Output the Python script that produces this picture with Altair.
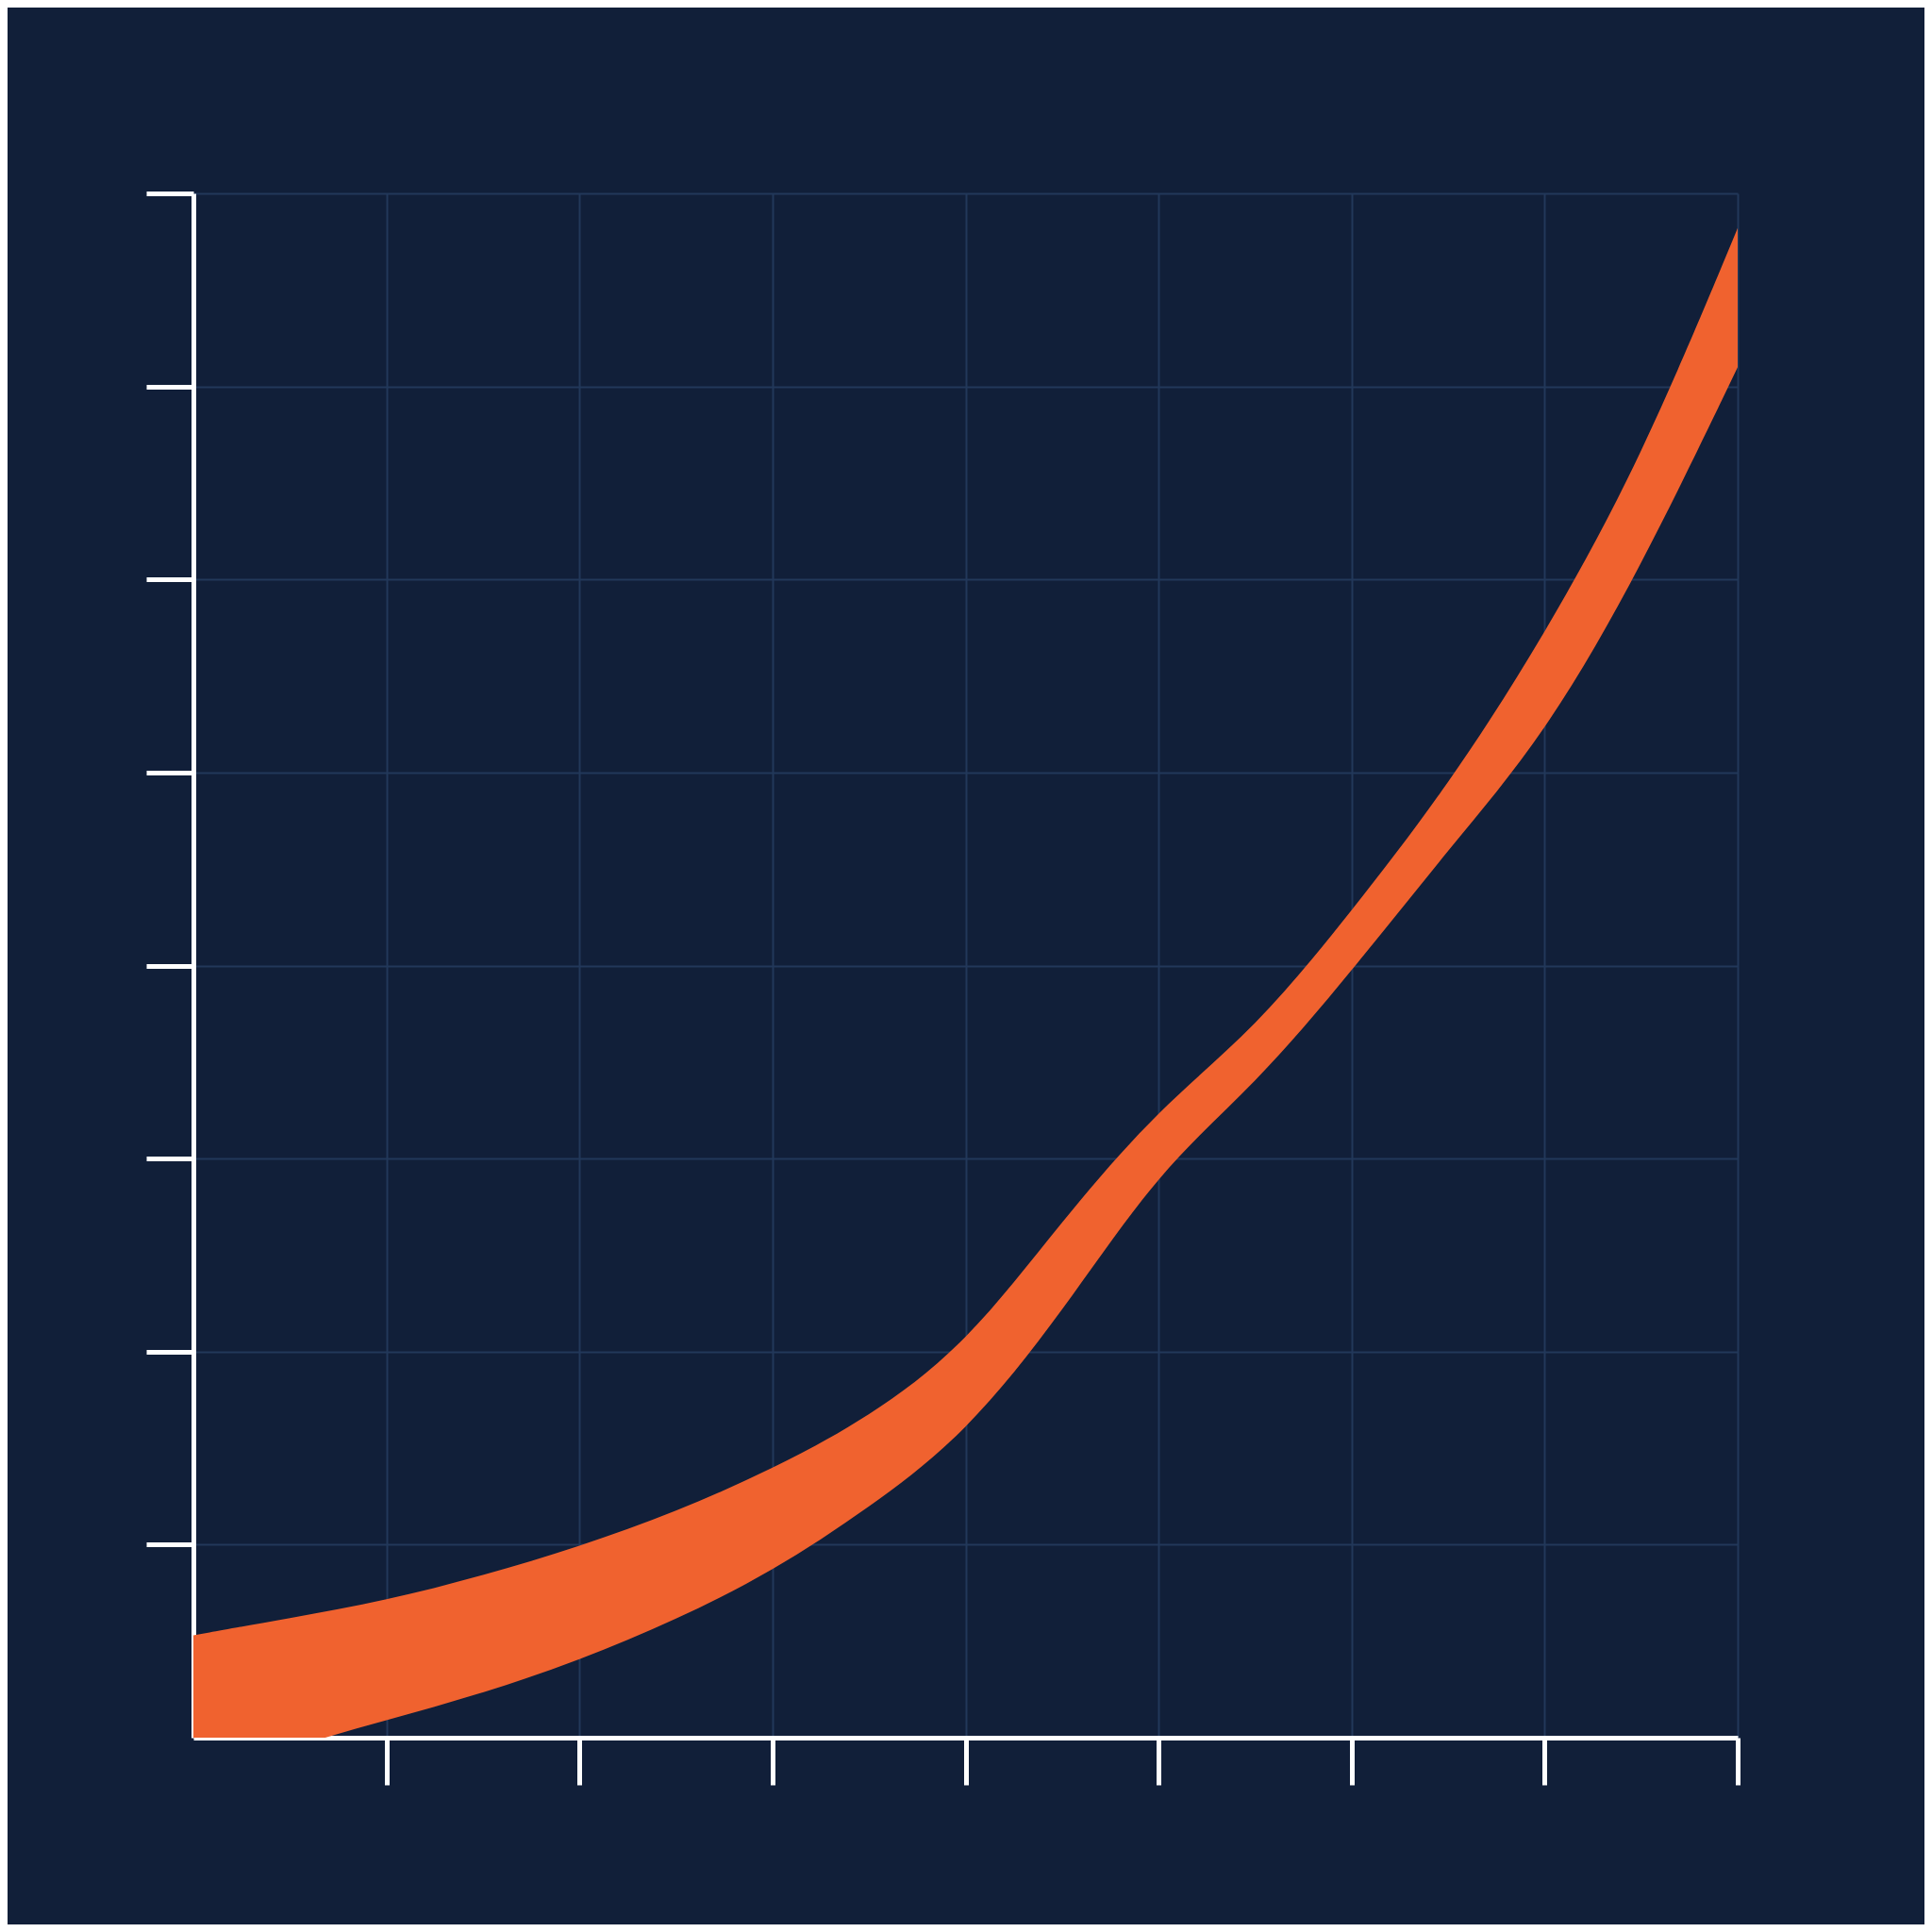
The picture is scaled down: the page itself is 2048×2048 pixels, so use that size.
import altair as alt
import pandas as pd

x_vals = [0, 0.5, 1, 1.5, 2, 2.5, 3, 3.5, 4, 4.5, 5, 5.5, 6, 6.5, 7, 7.5, 8]
upper = [0.53, 0.62, 0.71, 0.84, 0.99, 1.17, 1.39, 1.66, 2.03, 2.68, 3.26, 3.67, 4.28, 4.93, 5.71, 6.62, 7.82]
lower = [-0.22, -0.05, 0.09, 0.23, 0.40, 0.61, 0.86, 1.19, 1.57, 2.20, 2.94, 3.38, 3.97, 4.60, 5.19, 6.06, 7.10]
tick_values = [1, 2, 3, 4, 5, 6, 7, 8]

df = pd.DataFrame({"x": x_vals, "upper": upper, "lower": lower})

BG = "#111f39"
GRID = "#22385a"
ORANGE = "#f0622f"

chart = (
    alt.Chart(df)
    .mark_area(color=ORANGE, interpolate="basis", clip=True)
    .encode(
        x=alt.X("x:Q", scale=alt.Scale(domain=[0, 8], nice=False, zero=False),
                axis=alt.Axis(values=tick_values, labels=False, title=None)),
        y=alt.Y("lower:Q", scale=alt.Scale(domain=[0, 8], nice=False, zero=False),
                axis=alt.Axis(values=tick_values, labels=False, title=None)),
        y2="upper:Q",
    )
    .properties(
        width=1637,
        height=1637,
        autosize=alt.AutoSizeParams(type="none"),
        padding={"left": 197, "top": 197, "right": 198, "bottom": 198},
        background=BG,
    )
    .configure_view(stroke=None, fill=BG)
    .configure_axis(
        domainColor="#ffffff",
        domainWidth=5,
        tickColor="#ffffff",
        tickWidth=5,
        tickSize=50,
        gridColor=GRID,
        gridWidth=2,
        gridOpacity=1,
    )
)

chart.save("out.html", embed_options={"renderer": "svg", "actions": False})
